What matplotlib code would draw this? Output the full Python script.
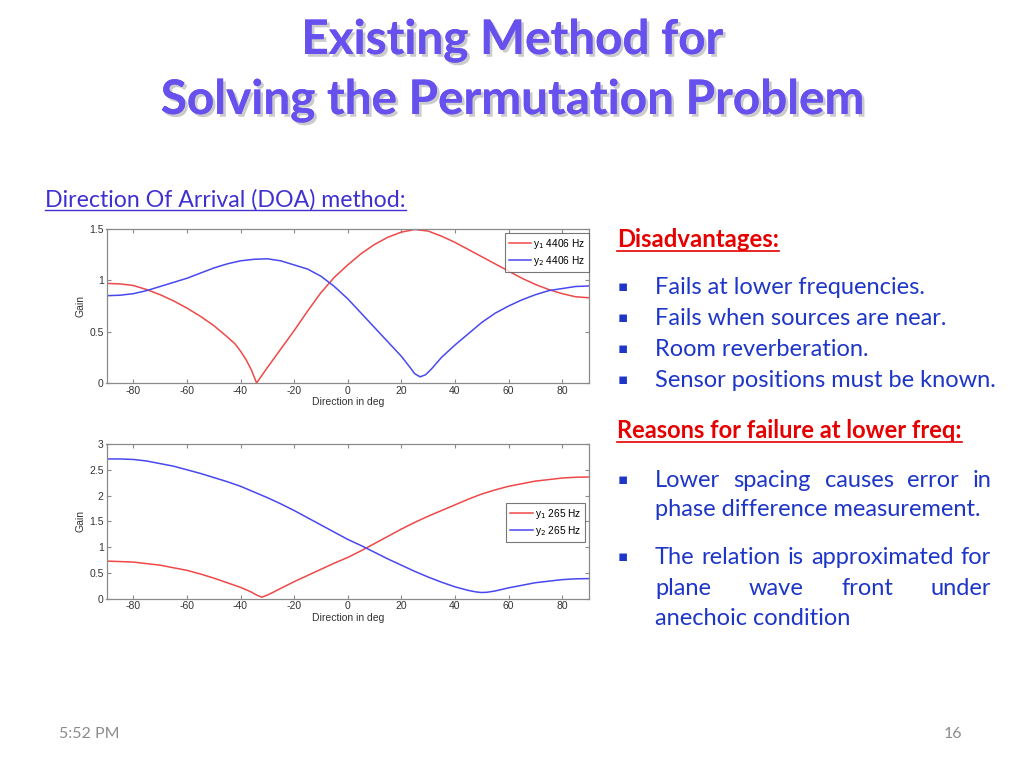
import matplotlib
matplotlib.use("Agg")
import matplotlib.pyplot as plt
import matplotlib.patheffects as pe
from matplotlib.ticker import FormatStrFormatter

plt.rcParams["axes.unicode_minus"] = False

# data (gain vs direction)
deg_r1 = [-90, -85, -80, -75, -70, -65, -60, -55, -50, -45, -42, -40, -38, -36, -34, -30, -25, -20, -15,
          -10, -5, 0, 5, 10, 15, 20, 25, 30, 35, 40, 45, 50, 55, 60, 65, 70, 75, 80, 85, 90]
gain_r1 = [0.97, 0.965, 0.95, 0.91, 0.86, 0.80, 0.73, 0.65, 0.56, 0.45, 0.38, 0.31, 0.23, 0.13, 0.0,
           0.15, 0.33, 0.51, 0.70, 0.88, 1.03, 1.15, 1.26, 1.35, 1.42, 1.47, 1.495, 1.48, 1.43, 1.37,
           1.30, 1.23, 1.16, 1.09, 1.02, 0.96, 0.91, 0.87, 0.84, 0.83]
deg_b1 = [-90, -85, -80, -75, -70, -65, -60, -55, -50, -45, -40, -35, -30, -25, -20, -15, -10, -5,
          0, 5, 10, 15, 20, 23, 25, 27, 29, 31, 35, 40, 45, 50, 55, 60, 65, 70, 75, 80, 85, 90]
gain_b1 = [0.85, 0.855, 0.87, 0.90, 0.94, 0.98, 1.02, 1.07, 1.12, 1.16, 1.19, 1.205, 1.21, 1.19, 1.15,
           1.11, 1.04, 0.94, 0.82, 0.68, 0.54, 0.40, 0.26, 0.16, 0.09, 0.06, 0.08, 0.13, 0.25, 0.37,
           0.48, 0.59, 0.68, 0.75, 0.81, 0.86, 0.90, 0.92, 0.94, 0.945]

deg_r2 = [-90, -85, -80, -75, -70, -65, -60, -55, -50, -45, -40, -36, -34, -32, -30, -28, -25, -20,
          -15, -10, -5, 0, 5, 10, 15, 20, 25, 30, 35, 40, 45, 50, 55, 60, 65, 70, 75, 80, 85, 90]
gain_r2 = [0.73, 0.72, 0.71, 0.68, 0.65, 0.60, 0.55, 0.48, 0.40, 0.31, 0.22, 0.13, 0.07, 0.03, 0.07,
           0.12, 0.20, 0.33, 0.45, 0.57, 0.69, 0.80, 0.93, 1.07, 1.21, 1.35, 1.48, 1.60, 1.71, 1.82,
           1.93, 2.03, 2.11, 2.18, 2.23, 2.28, 2.31, 2.34, 2.355, 2.36]
deg_b2 = [-90, -85, -80, -75, -70, -65, -60, -55, -50, -45, -40, -35, -30, -25, -20, -15, -10, -5,
          0, 5, 10, 15, 20, 25, 30, 35, 40, 45, 48, 50, 52, 55, 60, 65, 70, 75, 80, 85, 90]
gain_b2 = [2.71, 2.71, 2.70, 2.67, 2.62, 2.57, 2.50, 2.43, 2.35, 2.27, 2.18, 2.07, 1.96, 1.84, 1.71,
           1.57, 1.43, 1.29, 1.15, 1.03, 0.90, 0.77, 0.65, 0.53, 0.42, 0.32, 0.23, 0.16, 0.13, 0.12,
           0.125, 0.15, 0.21, 0.26, 0.31, 0.34, 0.37, 0.385, 0.39]

xticks = [-80, -60, -40, -20, 0, 20, 40, 60, 80]
yticks1 = [0, 0.5, 1, 1.5]
yticks2 = [0, 0.5, 1, 1.5, 2, 2.5, 3]
labels1 = ["y$_1$ 4406 Hz", "y$_2$ 4406 Hz"]
labels2 = ["y$_1$ 265 Hz", "y$_2$ 265 Hz"]

title_lines = ["Existing Method for", "Solving the Permutation Problem"]
disadv = ["Fails at lower frequencies.", "Fails when sources are near.",
          "Room reverberation.", "Sensor positions must be known."]

W, H = 1024, 768
fig = plt.figure(figsize=(W / 100, H / 100), dpi=100)
fig.patch.set_facecolor("white")

RED = "#f04848"
BLUE = "#4848f0"
AXC = "#8a8a8a"
TXT = "#333333"


def px(x, y):
    # pixel coords (top-left origin) -> figure fraction
    return x / W, 1 - y / H


def make_axes(top, bottom, ymax, yticks):
    l, b = px(106.5, bottom)
    ax = fig.add_axes([l, b, (589 - 106.5) / W, (bottom - top) / H])
    ax.set_xlim(-90, 90)
    ax.set_ylim(0, ymax)
    ax.set_xticks(xticks)
    ax.set_yticks(yticks)
    ax.yaxis.set_major_formatter(FormatStrFormatter("%g"))
    ax.tick_params(direction="in", top=True, right=True, length=3, width=0.8,
                   colors=AXC, labelcolor=TXT, labelsize=7.5, pad=2)
    for s in ax.spines.values():
        s.set_color(AXC)
        s.set_linewidth(0.9)
    for lab in ax.get_xticklabels() + ax.get_yticklabels():
        lab.set_family("Liberation Sans")
    ax.set_xlabel("Direction in deg", fontsize=7.5, color=TXT, family="Liberation Sans", labelpad=1)
    ax.set_ylabel("Gain", fontsize=7.5, color=TXT, family="Liberation Sans", labelpad=3)
    return ax


def add_legend(ax, anchor):
    leg = ax.legend(loc="upper right", bbox_to_anchor=anchor, borderaxespad=0, fancybox=False,
                    prop={"family": "Liberation Sans", "size": 7.3}, handlelength=2.2,
                    handletextpad=0.2, labelspacing=0.3, borderpad=0.4)
    leg.get_frame().set_edgecolor("#555555")
    leg.get_frame().set_linewidth(0.8)


ax1 = make_axes(229, 383, 1.5, yticks1)
ax1.plot(deg_r1, gain_r1, color=RED, lw=1.1, label=labels1[0])
ax1.plot(deg_b1, gain_b1, color=BLUE, lw=1.1, label=labels1[1])
add_legend(ax1, (1.0, 0.975))

ax2 = make_axes(444, 598.7, 3, yticks2)
ax2.plot(deg_r2, gain_r2, color=RED, lw=1.1, label=labels2[0])
ax2.plot(deg_b2, gain_b2, color=BLUE, lw=1.1, label=labels2[1])
add_legend(ax2, (0.992, 0.62))

# ---- slide text ----
FONT = "Lato"
TITLE_C = "#6650ee"
BODY_C = "#1e36c8"
HEAD_C = "#e60000"

shadow = [pe.withSimplePatchShadow(offset=(2, -2), shadow_rgbFace="#999999", alpha=0.5), pe.Normal()]
for txt, yb in zip(title_lines, [54, 114]):
    fig.text(*px(512, yb), txt, ha="center", va="baseline", fontsize=34.3, fontweight="bold",
             family=FONT, color=TITLE_C, path_effects=shadow)

renderer = fig.canvas.get_renderer()


def underlined(x, yb, s, color, size, weight="normal", off=3.5, lw=1.2):
    t = fig.text(*px(x, yb), s, ha="left", va="baseline", fontsize=size, fontweight=weight,
                 family=FONT, color=color)
    bb = t.get_window_extent(renderer)
    fig.add_artist(plt.Line2D([x / W, bb.x1 / W], [1 - (yb + off) / H] * 2, color=color, lw=lw))
    return t


underlined(45, 206.7, "Direction Of Arrival (DOA) method:", "#3f30d0", 16.7, off=3.2, lw=1.0)
underlined(617, 247, "Disadvantages:", HEAD_C, 17.2, weight="bold")
underlined(617, 438, "Reasons for failure at lower freq:", HEAD_C, 17, weight="bold")

BSIZE = 17


def bullet(yb):
    fig.text(*px(622.5, yb - 7.5), "\u25aa", ha="center", va="center", fontsize=11,
             family="DejaVu Sans", color=BODY_C)


def justified(yb, s, x0=655, x1=991):
    words = s.split()
    ts = [fig.text(0, 0, w, fontsize=BSIZE, family=FONT, color=BODY_C, va="baseline") for w in words]
    widths = [t.get_window_extent(renderer).width for t in ts]
    gap = (x1 - x0 - sum(widths)) / (len(words) - 1)
    x = x0
    for t, w in zip(ts, widths):
        t.set_position(px(x, yb))
        x += w + gap


for s, yb in zip(disadv, [294, 325, 356, 387]):
    bullet(yb)
    fig.text(*px(655, yb), s, ha="left", va="baseline", fontsize=BSIZE, family=FONT, color=BODY_C)

bullet(486.7)
justified(486.7, "Lower spacing causes error in")
fig.text(*px(655, 516), "phase difference measurement.", ha="left", va="baseline", fontsize=BSIZE,
         family=FONT, color=BODY_C)
bullet(564)
justified(564, "The relation is approximated for")
justified(595, "plane wave front under")
fig.text(*px(655, 625), "anechoic condition", ha="left", va="baseline", fontsize=BSIZE,
         family=FONT, color=BODY_C)

fig.text(*px(59, 738), "5:52 PM", ha="left", va="baseline", fontsize=11.5, family=FONT, color="#8c8c8c")
fig.text(*px(962, 738), "16", ha="right", va="baseline", fontsize=11.5, family=FONT, color="#8c8c8c")

fig.savefig("out.png", dpi=100)
